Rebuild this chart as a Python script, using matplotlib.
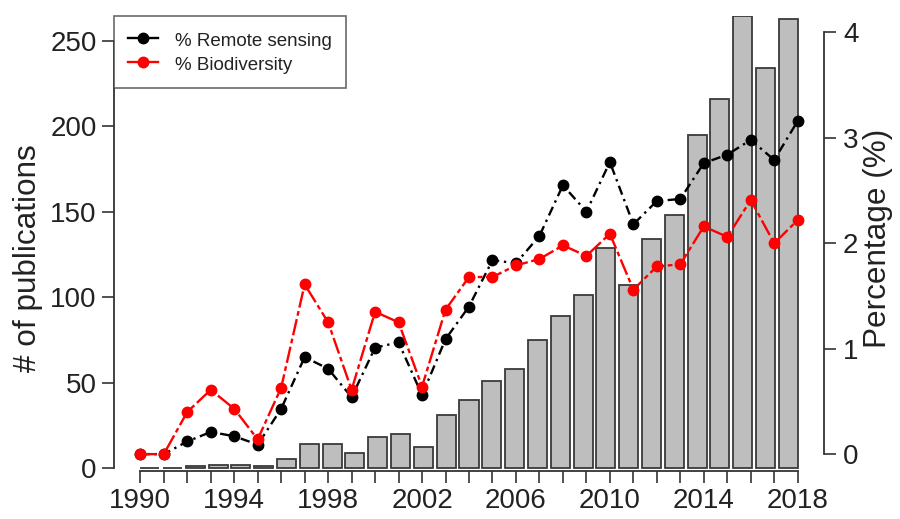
import matplotlib
matplotlib.use('Agg')
import matplotlib.pyplot as plt
import numpy as np

plt.rcParams['font.family'] = ['Liberation Sans', 'DejaVu Sans']

# 数据
years = list(range(1990, 2019))
pubs = [0, 0, 1, 2, 2, 1, 5, 14, 14, 9, 18, 20, 12, 31, 40, 51, 58, 75, 89, 101,
        129, 107, 134, 148, 195, 216, 265, 234, 263]
remote = [0, 0, 0.12, 0.21, 0.17, 0.09, 0.43, 0.92, 0.81, 0.54, 1.01, 1.06, 0.56, 1.09,
          1.40, 1.84, 1.81, 2.07, 2.55, 2.30, 2.77, 2.18, 2.40, 2.42, 2.76, 2.84, 2.98,
          2.79, 3.16]
biodiv = [0, 0, 0.40, 0.61, 0.43, 0.14, 0.63, 1.61, 1.25, 0.61, 1.35, 1.25, 0.64, 1.37,
          1.68, 1.68, 1.79, 1.85, 1.98, 1.88, 2.09, 1.56, 1.78, 1.80, 2.16, 2.06, 2.41,
          2.00, 2.22]
pub_ticks = [0, 50, 100, 150, 200, 250]
pct_ticks = [0, 1, 2, 3, 4]
year_labels = [1990, 1994, 1998, 2002, 2006, 2010, 2014, 2018]

txt = '#222222'
axc = '#333333'
fs_tick = 20
fs_lab = 22.7

fig = plt.figure(figsize=(9, 5.19), dpi=100)
rect = [114 / 900, 1 - 471 / 519, 710 / 900, 455.5 / 519]

# 柱状图 (左轴)
ax = fig.add_axes(rect)
xb = 0.7 + 1.2 * np.arange(len(pubs))
ax.bar(xb, pubs, width=1, color='#bebebe', edgecolor='#3a3a3a', linewidth=1.3)
ax.set_xlim(-1.184, 36.184)
ax.set_ylim(-1.8, 265)
for s in ['top', 'right', 'bottom']:
    ax.spines[s].set_visible(False)
ax.spines['left'].set_bounds(0, 250)
ax.spines['left'].set_color(axc)
ax.spines['left'].set_linewidth(1.3)
ax.set_xticks([])
ax.set_yticks(pub_ticks)
ax.tick_params(axis='y', length=8.6, width=1.2, color=axc, pad=4,
               labelsize=fs_tick, labelcolor=txt)

# 折线图 (右轴)
ax2 = fig.add_axes(rect)
ax2.patch.set_visible(False)
ax2.plot(years, remote, color='black', marker='o', ms=7.5, lw=1.7,
         ls=(0, (4, 2, 1, 2)), label='% Remote sensing')
ax2.plot(years, biodiv, color='red', marker='o', ms=7.5, lw=1.7,
         ls=(0, (7, 1.5, 2, 1.5)), label='% Biodiversity')
ax2.set_xlim(1988.88, 2019.12)
ax2.set_ylim(-0.16, 4.16)
for s in ['top', 'left']:
    ax2.spines[s].set_visible(False)
ax2.spines['right'].set_bounds(0, 4)
ax2.spines['bottom'].set_bounds(1990, 2018)
for s in ['right', 'bottom']:
    ax2.spines[s].set_color(axc)
    ax2.spines[s].set_linewidth(1.3)
ax2.yaxis.tick_right()
ax2.set_yticks(pct_ticks)
ax2.set_xticks(years)
ax2.set_xticklabels([str(y) if y in year_labels else '' for y in years])
ax2.tick_params(length=8.6, width=1.2, color=axc, labelsize=fs_tick, labelcolor=txt)
ax2.tick_params(axis='x', pad=4)
ax2.tick_params(axis='y', pad=5)

leg = ax2.legend(loc='upper left', bbox_to_anchor=(0, 1), borderaxespad=0,
                 fancybox=False, edgecolor='#444444', fontsize=13.5,
                 handlelength=1.6, handletextpad=0.9, labelspacing=0.2,
                 handleheight=1.3, borderpad=0.75)
leg.get_frame().set_linewidth(1.2)
for h in leg.get_lines():
    h.set_linestyle('-')
for t in leg.get_texts():
    t.set_color(txt)

fig.text(28 / 900, 1 - 258 / 519, '# of publications', rotation=90,
         ha='center', va='center', fontsize=fs_lab, color=txt)
fig.text(878 / 900, 1 - 238 / 519, 'Percentage (%)', rotation=90,
         ha='center', va='center', fontsize=fs_lab, color=txt)

fig.savefig('out.png', dpi=100)
